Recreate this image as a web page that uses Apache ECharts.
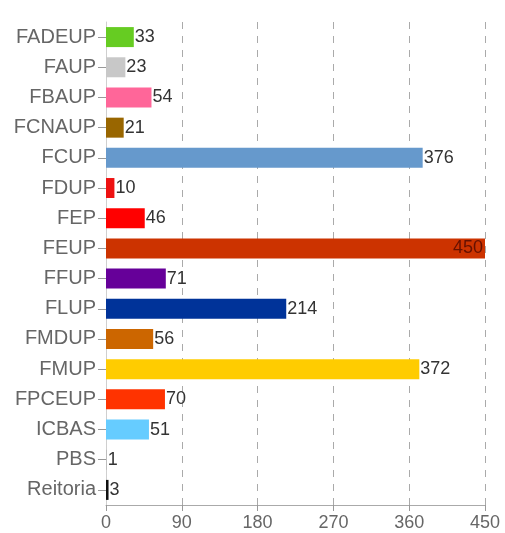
<!DOCTYPE html>
<html>
<head>
<meta charset="utf-8">
<title>chart</title>
<script src="https://cdn.jsdelivr.net/npm/echarts@6/dist/echarts.min.js"></script>
<style>
  html, body { margin: 0; padding: 0; background: #fff; }
  #main { width: 505px; height: 533px; }
</style>
</head>
<body>
<div id="main"></div>
<script>
var categories = ["FADEUP", "FAUP", "FBAUP", "FCNAUP", "FCUP", "FDUP", "FEP", "FEUP",
  "FFUP", "FLUP", "FMDUP", "FMUP", "FPCEUP", "ICBAS", "PBS", "Reitoria"];
var values = [33, 23, 54, 21, 376, 10, 46, 450, 71, 214, 56, 372, 70, 51, 1, 3];
var colors = ["#66cc22", "#c8c8c8", "#ff6699", "#996600", "#6699cc", "#ee1111", "#ff0000", "#cc3300",
  "#660099", "#003399", "#cc6600", "#ffcc00", "#ff3300", "#66ccff", "#bbbbbb", "#111111"];
var xTicks = [0, 90, 180, 270, 360, 450];

var chart = echarts.init(document.getElementById("main"));

var barData = [];
for (var i = 0; i < values.length; i++) {
  var item = { value: values[i], itemStyle: { color: colors[i] } };
  if (values[i] === xTicks[xTicks.length - 1]) {
    // the longest bar carries its label inside
    item.label = { position: "insideRight", color: "#661100", distance: 2 };
  }
  barData.push(item);
}

var option = {
  animation: false,
  grid: { left: 106, right: 20, top: 22, bottom: 28, containLabel: false },
  xAxis: {
    type: "value",
    min: xTicks[0],
    max: xTicks[xTicks.length - 1],
    interval: 90,
    axisLine: { show: true, lineStyle: { color: "#aaa" } },
    axisTick: { show: true, length: 6, lineStyle: { color: "#999" } },
    axisLabel: { color: "#666", fontSize: 18, margin: 9, fontFamily: "Liberation Sans" },
    splitLine: { show: true, lineStyle: { color: "#aaa", type: [7, 7] } }
  },
  yAxis: {
    type: "category",
    inverse: true,
    data: categories,
    axisLine: { show: true, lineStyle: { color: "#cfcfcf" } },
    axisTick: { show: true, length: 8, alignWithLabel: true, lineStyle: { color: "#999" } },
    axisLabel: { color: "#666", fontSize: 20, margin: 10, fontFamily: "Liberation Sans" }
  },
  series: [{
    type: "bar",
    barWidth: 20,
    data: barData,
    label: {
      show: true,
      position: "right",
      distance: 1,
      color: "#333",
      fontSize: 18,
      fontFamily: "Liberation Sans"
    }
  }]
};
chart.setOption(option);
</script>
</body>
</html>
